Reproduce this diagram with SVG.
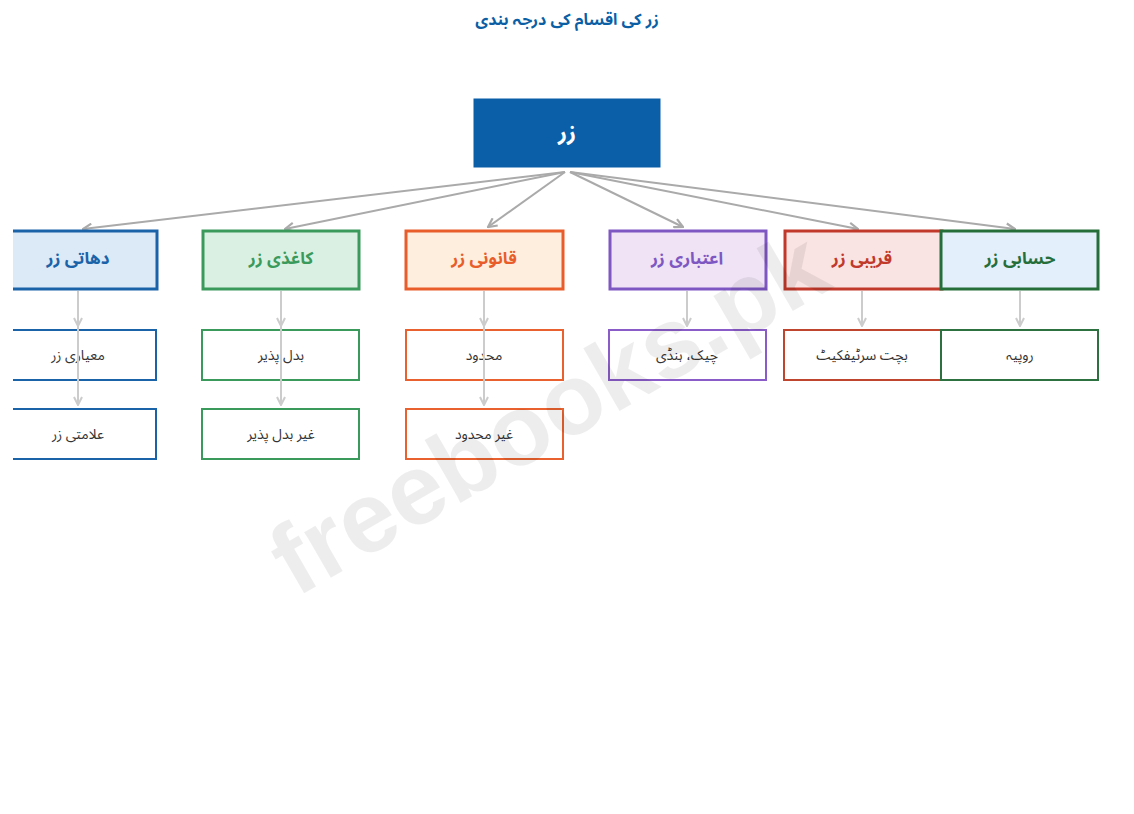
<svg xmlns="http://www.w3.org/2000/svg" width="1134" height="814" viewBox="0 0 1134 814">
<style>
  text { font-family: "Noto Sans Arabic", "DejaVu Sans", "Noto Sans", sans-serif; text-anchor: middle; dominant-baseline: central; }
  .title { font-size: 16px; font-weight: bold; fill: #0b5fa5; }
  .root-box { fill: #0b5ea8; stroke: #0b5ea8; stroke-width: 1; }
  .root-text { font-size: 22px; font-weight: bold; fill: #ffffff; }
  .l1 { stroke-width: 3; }
  .l1t { font-size: 17px; font-weight: bold; }
  .l2 { fill: #ffffff; stroke-width: 2; }
  .l2t { font-size: 14px; fill: #333333; }
  .main { stroke: #aaaaaa; stroke-width: 2; fill: none; marker-end: url(#arr); }
  .sub { stroke: #cccccc; stroke-width: 2; fill: none; marker-end: url(#arr2); }
  .wm { font-family: "Liberation Sans", Arial, sans-serif; font-size: 100px; font-weight: bold; fill: #000000; fill-opacity: 0.07; }
</style>
<defs>
  <marker id="arr" viewBox="0 0 10 10" refX="9" refY="5" markerWidth="11" markerHeight="11" orient="auto" markerUnits="userSpaceOnUse">
    <path d="M1,1 L9,5 L1,9" fill="none" stroke="#aaaaaa" stroke-width="2"/>
  </marker>
  <marker id="arr2" viewBox="0 0 10 10" refX="9" refY="5" markerWidth="10" markerHeight="10" orient="auto" markerUnits="userSpaceOnUse">
    <path d="M1,1 L9,5 L1,9" fill="none" stroke="#cccccc" stroke-width="2"/>
  </marker>
  <clipPath id="page"><rect x="13" y="0" width="1121" height="814"/></clipPath>
</defs>
<rect width="1134" height="814" fill="#ffffff"/>
<text class="title" x="567" y="20">زر کی اقسام کی درجہ بندی</text>

<g clip-path="url(#page)">
<g id="connectors">
  <line class="main" x1="565" y1="172" x2="83" y2="229"/>
  <line class="main" x1="565" y1="172" x2="285" y2="229"/>
  <line class="main" x1="565" y1="172" x2="488" y2="227"/>
  <line class="main" x1="570" y1="172" x2="683" y2="227"/>
  <line class="main" x1="570" y1="172" x2="858" y2="229"/>
  <line class="main" x1="570" y1="172" x2="1015" y2="229"/>
</g>

<g id="root">
  <rect class="root-box" x="474" y="99" width="186" height="68"/>
  <text class="root-text" x="567" y="133">زر</text>
</g>

<g id="dehati">
  <rect class="l1" x="-1" y="231" width="158" height="58" fill="#dce9f6" stroke="#1a63a8"/>
  <text class="l1t" x="78" y="259" fill="#1a63a8">دهاتی زر</text>
</g>
<g id="kaghazi">
  <rect class="l1" x="203" y="231" width="156" height="58" fill="#daf0e2" stroke="#3a9a5c"/>
  <text class="l1t" x="281" y="259" fill="#3a9a5c">کاغذی زر</text>
</g>
<g id="qanooni">
  <rect class="l1" x="406" y="231" width="157" height="58" fill="#fdeede" stroke="#e85d2a"/>
  <text class="l1t" x="484" y="259" fill="#e85d2a">قانونی زر</text>
</g>
<g id="etebari">
  <rect class="l1" x="610" y="231" width="156" height="58" fill="#efe3f5" stroke="#7e57c2"/>
  <text class="l1t" x="687" y="259" fill="#7e57c2">اعتباری زر</text>
</g>
<g id="qareebi">
  <rect class="l1" x="785" y="231" width="157" height="58" fill="#fae3e3" stroke="#c0392b"/>
  <text class="l1t" x="862" y="259" fill="#c0392b">قریبی زر</text>
</g>
<g id="hisabi">
  <rect class="l1" x="941" y="231" width="157" height="58" fill="#e3effa" stroke="#256e3a"/>
  <text class="l1t" x="1020" y="259" fill="#256e3a">حسابی زر</text>
</g>

<g id="dehati-1"><rect class="l2" x="-1" y="330" width="157" height="50" stroke="#1a63a8"/><text class="l2t" x="78" y="355">معیاری زر</text></g>
<g id="dehati-2"><rect class="l2" x="-1" y="409" width="157" height="50" stroke="#1a63a8"/><text class="l2t" x="78" y="434">علامتی زر</text></g>
<g id="kaghazi-1"><rect class="l2" x="202" y="330" width="157" height="50" stroke="#3a9a5c"/><text class="l2t" x="281" y="355">بدل پذیر</text></g>
<g id="kaghazi-2"><rect class="l2" x="202" y="409" width="157" height="50" stroke="#3a9a5c"/><text class="l2t" x="281" y="434">غیر بدل پذیر</text></g>
<g id="qanooni-1"><rect class="l2" x="406" y="330" width="157" height="50" stroke="#e8612e"/><text class="l2t" x="484" y="355">محدود</text></g>
<g id="qanooni-2"><rect class="l2" x="406" y="409" width="157" height="50" stroke="#e8612e"/><text class="l2t" x="484" y="434">غیر محدود</text></g>
<g id="etebari-1"><rect class="l2" x="609" y="330" width="157" height="50" stroke="#8a5cc7"/><text class="l2t" x="687" y="355">چیک، ہنڈی</text></g>
<g id="qareebi-1"><rect class="l2" x="784" y="330" width="157" height="50" stroke="#c0452e"/><text class="l2t" x="862" y="355">بچت سرٹیفکیٹ</text></g>
<g id="hisabi-1"><rect class="l2" x="941" y="330" width="157" height="50" stroke="#2e7140"/><text class="l2t" x="1020" y="355">روپیہ</text></g>

<g id="sub-connectors">
  <line class="sub" x1="78" y1="291" x2="78" y2="326"/>
  <line class="sub" x1="78" y1="291" x2="78" y2="405"/>
  <line class="sub" x1="281" y1="291" x2="281" y2="326"/>
  <line class="sub" x1="281" y1="291" x2="281" y2="405"/>
  <line class="sub" x1="484" y1="291" x2="484" y2="326"/>
  <line class="sub" x1="484" y1="291" x2="484" y2="405"/>
  <line class="sub" x1="687" y1="291" x2="687" y2="326"/>
  <line class="sub" x1="862" y1="291" x2="862" y2="326"/>
  <line class="sub" x1="1020" y1="291" x2="1020" y2="326"/>
</g>
</g>

<text class="wm" x="548" y="412" transform="rotate(-30 548 412)">freebooks.pk</text>
</svg>
